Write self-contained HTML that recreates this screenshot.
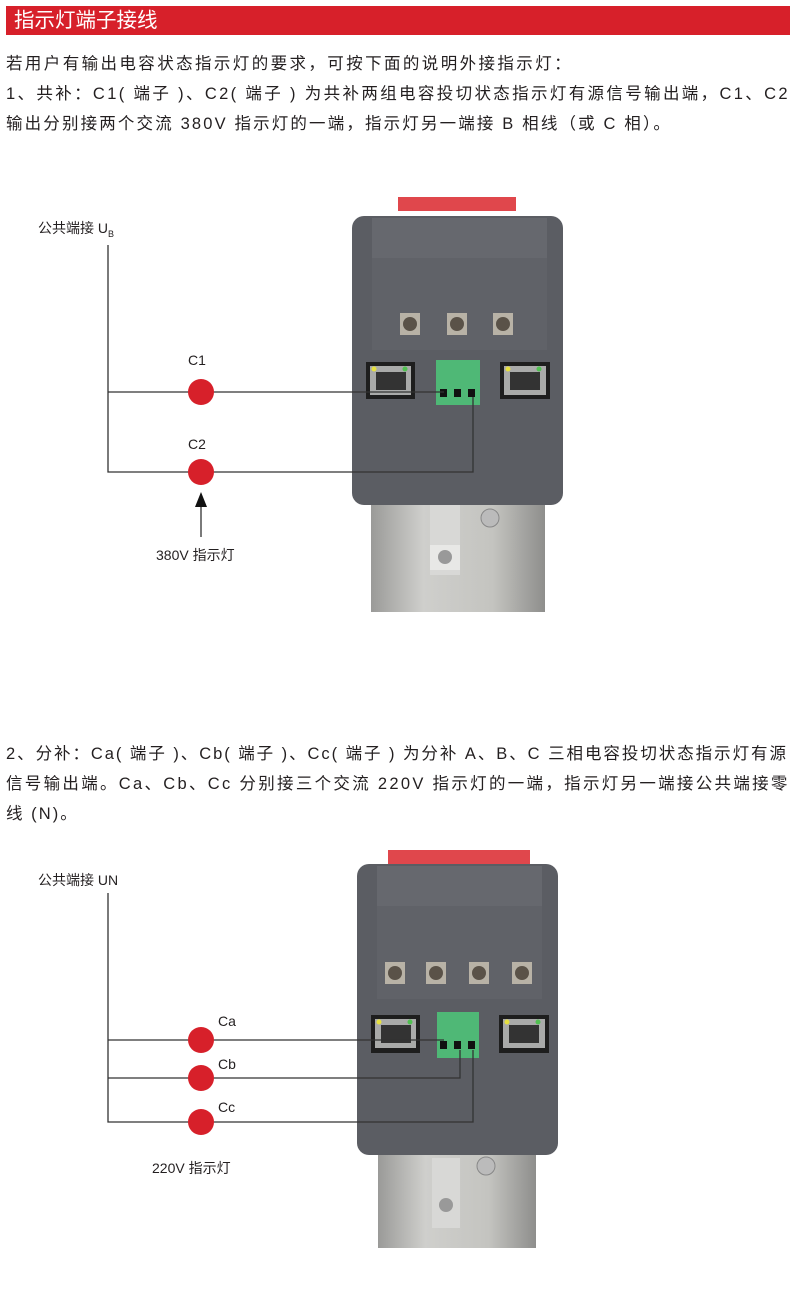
<!DOCTYPE html>
<html><head><meta charset="utf-8"><style>
body{margin:0;width:790px;height:1296px;background:#fff;position:relative;overflow:hidden;font-family:"Liberation Sans","Noto Sans CJK SC",sans-serif;color:#231f20}
.t{position:absolute;white-space:nowrap;font-size:16.5px;letter-spacing:2.05px}
.hd{position:absolute;left:6px;top:6px;width:784px;height:29px;background:#d7202a;color:#fff;font-size:20.5px;line-height:29px;padding-left:8px;box-sizing:border-box}
.s{position:absolute;white-space:nowrap;font-size:14px}
</style></head><body>
<div class="hd">指示灯端子接线</div>
<div class="t" style="left:6px;top:50px;letter-spacing:2.4px">若用户有输出电容状态指示灯的要求，可按下面的说明外接指示灯：</div>
<div class="t" style="left:6px;top:80px;letter-spacing:2.35px">1、共补：C1( 端子 )、C2( 端子 ) 为共补两组电容投切状态指示灯有源信号输出端，C1、C2</div>
<div class="t" style="left:6px;top:110px;letter-spacing:2.15px">输出分别接两个交流 380V 指示灯的一端，指示灯另一端接 B 相线（或 C 相）。</div>
<div class="t" style="left:6px;top:740px;letter-spacing:1.95px">2、分补：Ca( 端子 )、Cb( 端子 )、Cc( 端子 ) 为分补 A、B、C 三相电容投切状态指示灯有源</div>
<div class="t" style="left:6px;top:770px;letter-spacing:2.3px">信号输出端。Ca、Cb、Cc 分别接三个交流 220V 指示灯的一端，指示灯另一端接公共端接零</div>
<div class="t" style="left:6px;top:800px">线 (N)。</div>

<div class="s" style="left:38px;top:218px">公共端接 U<sub style="font-size:9px">B</sub></div>
<div class="s" style="left:188px;top:352px">C1</div>
<div class="s" style="left:188px;top:436px">C2</div>
<div class="s" style="left:156px;top:545px">380V 指示灯</div>
<div class="s" style="left:38px;top:870px">公共端接 UN</div>
<div class="s" style="left:218px;top:1013px">Ca</div>
<div class="s" style="left:218px;top:1056px">Cb</div>
<div class="s" style="left:218px;top:1099px">Cc</div>
<div class="s" style="left:152px;top:1158px">220V 指示灯</div>

<svg width="790" height="1296" style="position:absolute;left:0;top:0">
<defs>
<linearGradient id="m" x1="0" x2="1"><stop offset="0" stop-color="#9a9a98"/><stop offset=".3" stop-color="#cfcfcc"/><stop offset=".7" stop-color="#c4c4c0"/><stop offset="1" stop-color="#8e8e8c"/></linearGradient>
</defs>
<rect x="398" y="197" width="118" height="14" fill="#e0474c"/>
<rect x="371" y="500" width="174" height="112" fill="url(#m)"/>
<rect x="430" y="505" width="30" height="70" fill="#d8d8d6"/>
<rect x="430" y="545" width="30" height="25" fill="#e8e8e6"/>
<circle cx="445" cy="557" r="7" fill="#999"/>
<circle cx="490" cy="518" r="9" fill="#bbb" stroke="#888"/>
<rect x="352" y="216" width="211" height="289" rx="12" fill="#5b5d63"/>
<rect x="372" y="218" width="175" height="40" fill="#66686e"/>
<rect x="372" y="258" width="175" height="92" fill="#606268"/>
<rect x="400" y="313" width="20" height="22" fill="#b8b2a6"/><circle cx="410" cy="324" r="7" fill="#5a5248"/>
<rect x="447" y="313" width="20" height="22" fill="#b8b2a6"/><circle cx="457" cy="324" r="7" fill="#5a5248"/>
<rect x="493" y="313" width="20" height="22" fill="#b8b2a6"/><circle cx="503" cy="324" r="7" fill="#5a5248"/>
<rect x="366" y="362" width="49" height="37" fill="#1e1e1e"/><rect x="370" y="366" width="41" height="29" fill="#a9aaa9"/><rect x="376" y="372" width="30" height="18" fill="#333"/>
<circle cx="374" cy="369" r="2.5" fill="#e6e040"/><circle cx="405" cy="369" r="2.5" fill="#50c050"/>
<rect x="500" y="362" width="50" height="37" fill="#1e1e1e"/><rect x="504" y="366" width="42" height="29" fill="#a9aaa9"/><rect x="510" y="372" width="30" height="18" fill="#333"/>
<circle cx="508" cy="369" r="2.5" fill="#e6e040"/><circle cx="539" cy="369" r="2.5" fill="#50c050"/>
<rect x="436" y="360" width="44" height="45" fill="#4fb876"/>
<rect x="440" y="389" width="7" height="8" fill="#111"/><rect x="454" y="389" width="7" height="8" fill="#111"/><rect x="468" y="389" width="7" height="8" fill="#111"/>
<g stroke="#333" stroke-width="1.3" fill="none">
<path d="M108 245V472H473V397"/><path d="M108 392H444"/><path d="M201 537V505"/>
</g>
<path d="M195 507L201 492L207 507Z" fill="#111"/>
<circle cx="201" cy="392" r="13" fill="#d7202a"/><circle cx="201" cy="472" r="13" fill="#d7202a"/>
<rect x="388" y="850" width="142" height="14" fill="#e0474c"/>
<rect x="378" y="1150" width="158" height="98" fill="url(#m)"/>
<rect x="432" y="1158" width="28" height="70" fill="#d8d8d6"/>
<circle cx="446" cy="1205" r="7" fill="#999"/>
<circle cx="486" cy="1166" r="9" fill="#bbb" stroke="#888"/>
<rect x="357" y="864" width="201" height="291" rx="12" fill="#5b5d63"/>
<rect x="377" y="866" width="165" height="40" fill="#66686e"/>
<rect x="377" y="906" width="165" height="93" fill="#606268"/>
<rect x="385" y="962" width="20" height="22" fill="#b8b2a6"/><circle cx="395" cy="973" r="7" fill="#5a5248"/>
<rect x="426" y="962" width="20" height="22" fill="#b8b2a6"/><circle cx="436" cy="973" r="7" fill="#5a5248"/>
<rect x="469" y="962" width="20" height="22" fill="#b8b2a6"/><circle cx="479" cy="973" r="7" fill="#5a5248"/>
<rect x="512" y="962" width="20" height="22" fill="#b8b2a6"/><circle cx="522" cy="973" r="7" fill="#5a5248"/>
<rect x="371" y="1015" width="49" height="38" fill="#1e1e1e"/><rect x="375" y="1019" width="41" height="29" fill="#a9aaa9"/><rect x="381" y="1025" width="30" height="18" fill="#333"/>
<circle cx="379" cy="1022" r="2.5" fill="#e6e040"/><circle cx="410" cy="1022" r="2.5" fill="#50c050"/>
<rect x="499" y="1015" width="50" height="38" fill="#1e1e1e"/><rect x="503" y="1019" width="42" height="29" fill="#a9aaa9"/><rect x="509" y="1025" width="30" height="18" fill="#333"/>
<circle cx="507" cy="1022" r="2.5" fill="#e6e040"/><circle cx="538" cy="1022" r="2.5" fill="#50c050"/>
<rect x="437" y="1012" width="42" height="46" fill="#4fb876"/>
<rect x="440" y="1041" width="7" height="8" fill="#111"/><rect x="454" y="1041" width="7" height="8" fill="#111"/><rect x="468" y="1041" width="7" height="8" fill="#111"/>
<g stroke="#333" stroke-width="1.3" fill="none">
<path d="M108 893V1122H473V1050"/><path d="M108 1040H444"/><path d="M108 1078H460V1050"/>
</g>
<circle cx="201" cy="1040" r="13" fill="#d7202a"/><circle cx="201" cy="1078" r="13" fill="#d7202a"/><circle cx="201" cy="1122" r="13" fill="#d7202a"/>
</svg>
</body></html>
